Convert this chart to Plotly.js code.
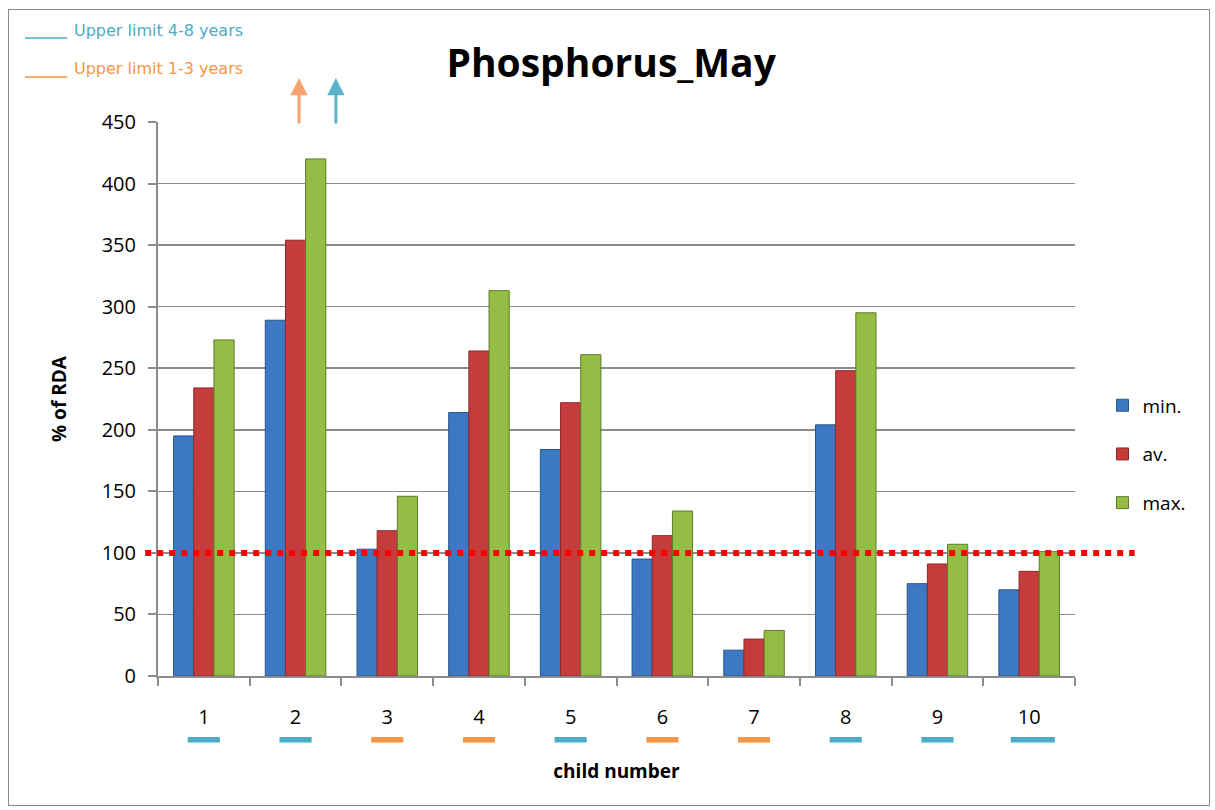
<!DOCTYPE html>
<html>
<head>
<meta charset="utf-8">
<script src="https://cdn.plot.ly/plotly-3.0.1.min.js"></script>
<style>
  html, body { margin: 0; padding: 0; background: #fff; }
  #chart { width: 1215px; height: 810px; position: absolute; left: 0; top: 0; }
  #frame { position: absolute; left: 8px; top: 9px; width: 1200px; height: 795px; border: 1.5px solid #8a8a8a; pointer-events: none; }
</style>
</head>
<body>
<div id="chart"></div>
<div id="frame"></div>
<script>
// ---- data ----
const categories = ['1', '2', '3', '4', '5', '6', '7', '8', '9', '10'];
const minVals = [195, 289, 103, 214, 184, 95, 21, 204, 75, 70];
const avVals  = [234, 354, 118, 264, 222, 114, 30, 248, 91, 85];
const maxVals = [273, 420, 146, 313, 261, 134, 37, 295, 107, 101];
const ageGroups = ['4-8', '4-8', '1-3', '1-3', '4-8', '1-3', '1-3', '4-8', '4-8', '4-8'];
const rdaLevel = 100;
const yTicks = [0, 50, 100, 150, 200, 250, 300, 350, 400, 450];

const groupColor = { '4-8': '#4BACC6', '1-3': '#F79646' };
const FONT = 'Open Sans, Noto Sans, sans-serif';

const traces = [
  { name: 'min.', y: minVals, color: '#3C78C3', line: '#2A5587', group: 'a' },
  { name: 'av.',  y: avVals,  color: '#C63B3B', line: '#8C2A2A', group: 'b' },
  { name: 'max.', y: maxVals, color: '#95BD45', line: '#5E7A2A', group: 'c' }
].map(s => ({
  type: 'bar', name: s.name, x: categories, y: s.y, legendgroup: s.group,
  marker: { color: s.color, line: { color: s.line, width: 1 } },
  hoverinfo: 'x+y+name'
}));

const shapes = [];
// reference line at 100% RDA (dotted red)
shapes.push({
  type: 'line', xref: 'paper', yref: 'y', x0: -0.014, x1: 1.065, y0: rdaLevel, y1: rdaLevel,
  line: { color: '#FF0000', width: 6, dash: 'dot' }, layer: 'above'
});
// colored age-group markers under categories
ageGroups.forEach((g, i) => {
  const w = (i === ageGroups.length - 1) ? 0.24 : 0.175;
  const c = (i === ageGroups.length - 1) ? i + 0.04 : i;
  shapes.push({
    type: 'rect', xref: 'x', yref: 'paper', x0: c - w, x1: c + w,
    y0: -0.120, y1: -0.110, fillcolor: groupColor[g], line: { width: 0 }
  });
});
// legend lines top-left
shapes.push({ type: 'line', xref: 'paper', yref: 'paper', x0: -0.145, x1: -0.099, y0: 1.1516, y1: 1.1516,
  line: { color: groupColor['4-8'], width: 1.5 } });
shapes.push({ type: 'line', xref: 'paper', yref: 'paper', x0: -0.145, x1: -0.099, y0: 1.0812, y1: 1.0812,
  line: { color: groupColor['1-3'], width: 1.5 } });

const LEGFONT = 'DejaVu Sans, sans-serif';
const annotations = [
  { xref: 'paper', yref: 'paper', x: -0.094, y: 1.166, xanchor: 'left', yanchor: 'middle', showarrow: false,
    text: 'Upper limit 4-8 years', font: { family: LEGFONT, size: 16, color: groupColor['4-8'] } },
  { xref: 'paper', yref: 'paper', x: -0.094, y: 1.0957, xanchor: 'left', yanchor: 'middle', showarrow: false,
    text: 'Upper limit 1-3 years', font: { family: LEGFONT, size: 16, color: groupColor['1-3'] } },
  { xref: 'paper', yref: 'paper', x: 0.1538, y: 1.0794, showarrow: true, ax: 0, ay: 47, text: '',
    arrowcolor: '#F7A36A', arrowwidth: 3, arrowhead: 2, arrowsize: 1.15 },
  { xref: 'paper', yref: 'paper', x: 0.194, y: 1.0794, showarrow: true, ax: 0, ay: 47, text: '',
    arrowcolor: '#5DB3CB', arrowwidth: 3, arrowhead: 2, arrowsize: 1.15 }
];

const layout = {
  width: 1215, height: 810,
  margin: { l: 158, r: 140, t: 122, b: 134 },
  paper_bgcolor: 'rgba(0,0,0,0)', plot_bgcolor: '#fff',
  font: { family: FONT, color: '#000' },
  title: { text: '<b>Phosphorus_May</b>', x: 0.503, xanchor: 'center', y: 0.922, yanchor: 'middle',
    font: { family: FONT, size: 39, color: '#000' } },
  barmode: 'group', bargap: 0.34, bargroupgap: 0,
  xaxis: {
    type: 'category', showgrid: false, showline: true, linecolor: '#8c8c8c', linewidth: 2,
    ticks: 'outside', tickson: 'boundaries', ticklen: 8, tickcolor: '#8c8c8c', tickwidth: 2,
    tickfont: { family: FONT, size: 20, color: '#000' }, ticklabelstandoff: 22,
    title: { text: '<b>child number</b>', font: { family: FONT, size: 19, color: '#000' }, standoff: 36 }
  },
  yaxis: {
    range: [0, 450], tickvals: yTicks, showgrid: true, gridcolor: '#8c8c8c', gridwidth: 1.5,
    showline: true, linecolor: '#8c8c8c', linewidth: 2, zeroline: false,
    ticks: 'outside', ticklen: 8, tickcolor: '#8c8c8c', tickwidth: 2,
    tickfont: { family: FONT, size: 20, color: '#000' }, ticklabelstandoff: 8,
    title: { text: '<b>% of RDA</b>', font: { family: FONT, size: 19, color: '#000' }, standoff: 30 }
  },
  legend: {
    x: 1.030, xanchor: 'left', y: 0.40, yanchor: 'middle',
    font: { family: FONT, size: 19, color: '#000' }, tracegroupgap: 21, traceorder: 'grouped',
    bgcolor: 'rgba(0,0,0,0)'
  },
  shapes: shapes,
  annotations: annotations
};

Plotly.newPlot('chart', traces, layout, { displayModeBar: false, staticPlot: true });
</script>
</body>
</html>
